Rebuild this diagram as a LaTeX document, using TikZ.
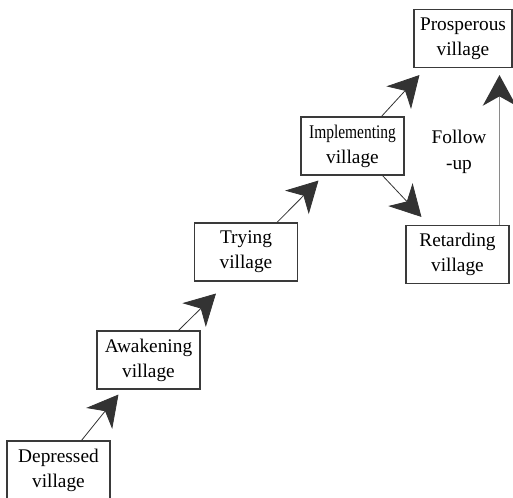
\documentclass[tikz,border=0pt]{standalone}
\usepackage{fontspec}
\setmainfont{Liberation Serif}
\usepackage{graphicx}
\usetikzlibrary{arrows.meta,calc}
\definecolor{boxgray}{HTML}{3A3A3A}
\definecolor{headgray}{HTML}{333333}
\definecolor{upgray}{HTML}{8A8A8A}
\tikzset{
  villbox/.style={draw=boxgray, line width=0.8pt, minimum width=77.25pt,
                  minimum height=43.5pt, align=center, inner sep=2pt,
                  font=\fontsize{14.5pt}{18.75pt}\selectfont},
  stepline/.style={-{Stealth[length=23pt,width=25pt,inset=7pt]}, line width=0.6pt, headgray},
  followline/.style={-{Stealth[length=23pt,width=25pt,inset=7pt,color=headgray]},
                     line width=1.3pt, upgray}
}

\begin{document}
\begin{tikzpicture}[x=0.75pt,y=-0.75pt]
    \useasboundingbox (0,0) rectangle (513,498);

    \node[villbox] (dep) at (58.5,470)  {Depressed\\village};
    \node[villbox] (awk) at (148.5,360) {Awakening\\village};
    \node[villbox] (try) at (246,252)   {Trying\\village};
    \node[villbox] (imp) at (352.5,146) {\scalebox{0.8}[1]{Implementing}\\village};
    \node[villbox, minimum width=73.5pt] (pro) at (463,38.5) {Prosperous\\village};
    \node[villbox] (ret) at (457.5,254.5) {Retarding\\village};

    % stairs up
    \draw[stepline] ($(dep.north west)+(75,0)$) -- ($(awk.south west)+(22,5)$);
    \draw[stepline] ($(awk.north west)+(82,0)$) -- ($(try.south west)+(22,12)$);
    \draw[stepline] ($(try.north west)+(83,0)$) -- ($(imp.south west)+(18,5)$);
    \draw[stepline] ($(imp.north west)+(81,0)$) -- ($(pro.south west)+(6,7)$);
    \draw[stepline] ($(imp.south west)+(82,0)$) -- ($(ret.north west)+(16,-8)$);

    % follow-up
    \draw[followline] ($(ret.north west)+(94,0)$) -- ($(pro.south west)+(86,7)$);
    \node[font=\fontsize{14.5pt}{19.5pt}\selectfont, align=center] (fu) at (459,152) {Follow\\-up};
\end{tikzpicture}
\end{document}
